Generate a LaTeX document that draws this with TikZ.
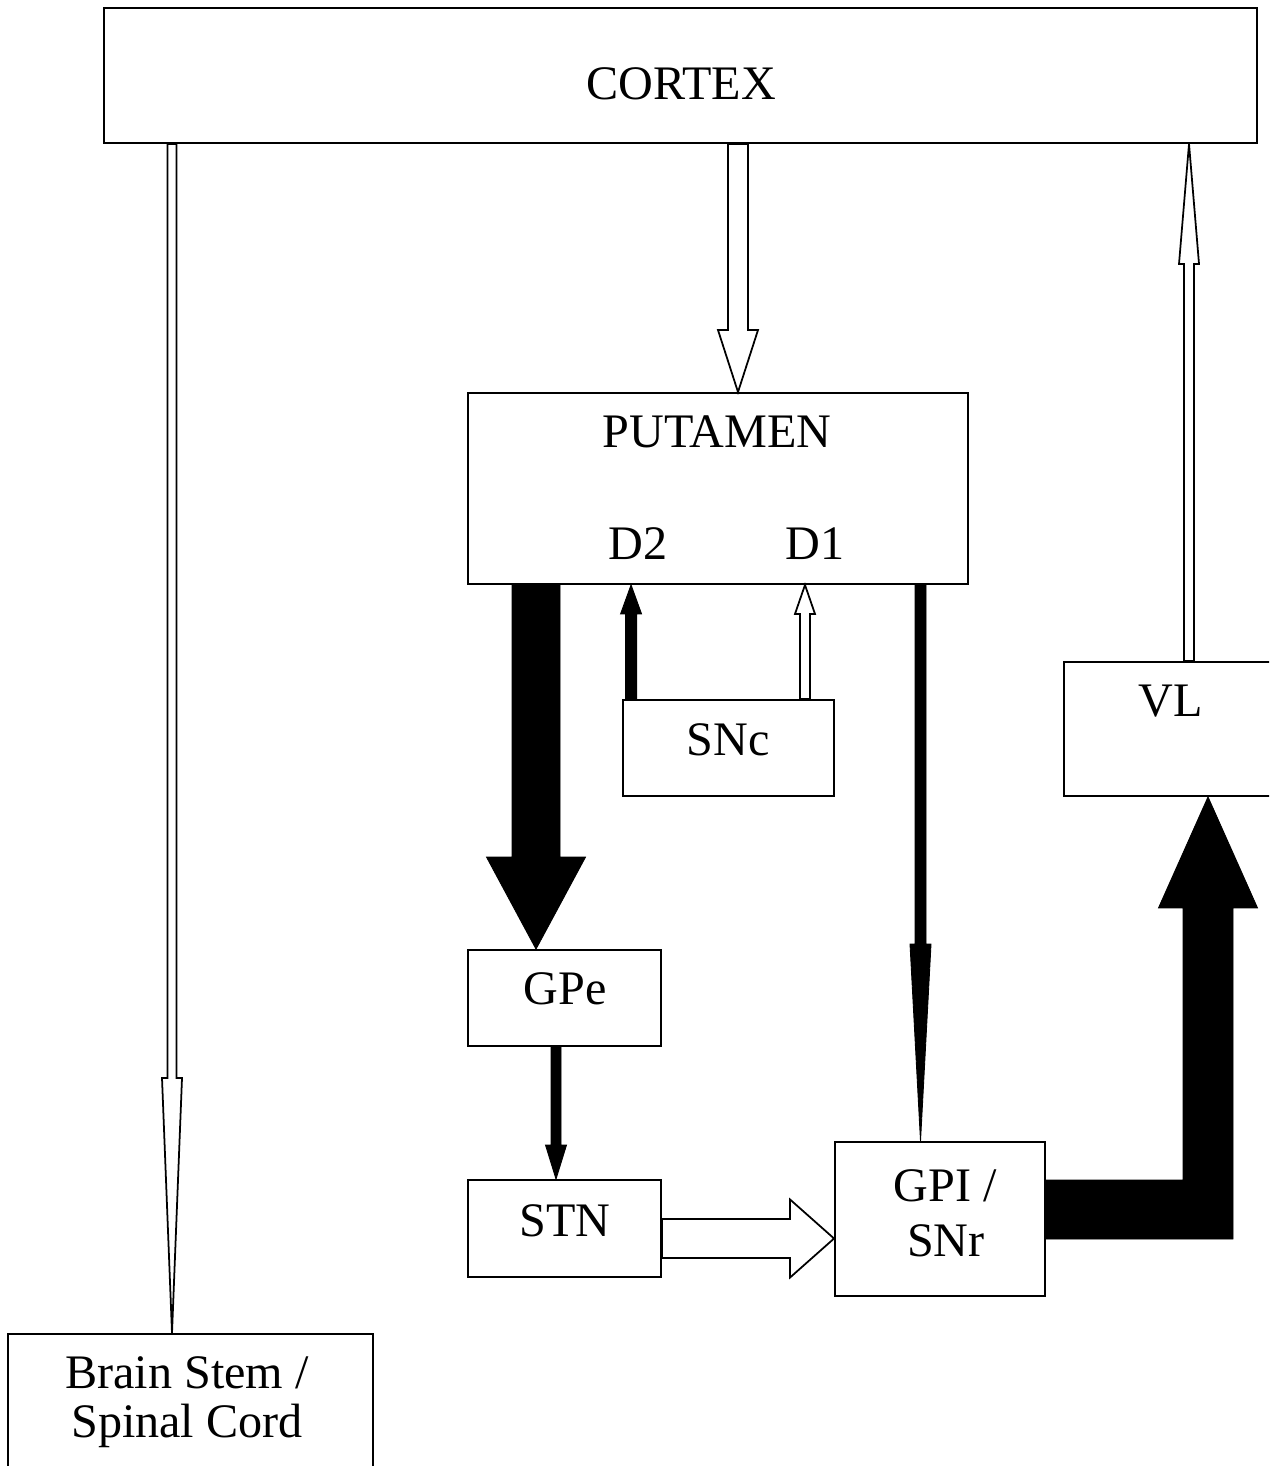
\documentclass[tikz,border=0pt]{standalone}
\usepackage{fontspec}
\setmainfont{Liberation Serif}
\usetikzlibrary{calc}

\newcommand{\blockarrow}[6]{%
  \path (#3) coordinate (ba-e) ($(#3)!#6!(#2)$) coordinate (ba-h);
  \draw[#1] ($(#2)!#4!90:(#3)$) -- ($(ba-h)!#4!90:(ba-e)$) -- ($(ba-h)!#5!90:(ba-e)$)
    -- (ba-e) -- ($(ba-h)!#5!-90:(ba-e)$) -- ($(ba-h)!#4!-90:(ba-e)$) -- ($(#2)!#4!-90:(#3)$) -- cycle;
}

\begin{document}
\begin{tikzpicture}[x=0.02cm, y=-0.02cm,
  every node/.style={font=\fontsize{27.4pt}{31pt}\selectfont},
  box/.style={draw, line width=1.1pt, inner sep=0pt},
  lbl/.style={inner sep=0pt, anchor=base},
  blackarrow/.style={fill=black, draw=black, line width=0.5pt},
  whitearrow/.style={draw=black, line width=1pt, line join=miter}]
 \clip (0,0) rectangle (1269,1466);

 \node[box, minimum width=23.06cm, minimum height=2.70cm] (cortex) at (680.5,75.5) {};
 \node[box, minimum width=10.00cm, minimum height=3.82cm] (putamen) at (718,488.5) {};
 \node[box, minimum width=4.22cm, minimum height=1.92cm] (snc) at (728.5,748) {};
 \node[box, minimum width=4.32cm, minimum height=2.68cm] (vl) at (1172,729) {};
 \node[box, minimum width=3.86cm, minimum height=1.92cm] (gpe) at (564.5,998) {};
 \node[box, minimum width=3.86cm, minimum height=1.94cm] (stn) at (564.5,1228.5) {};
 \node[box, minimum width=4.20cm, minimum height=3.08cm] (gpi) at (940,1219) {};
 \node[box, minimum width=7.30cm, minimum height=2.92cm] (brain) at (190.5,1407) {};

 \node[lbl] (cortexT) at (681,100) {CORTEX};
 \node[lbl] (putamenT) at (717,447) {PUTAMEN};
 \node[lbl] (dtwoT) at (638,559) {D2};
 \node[lbl] (doneT) at (815,559) {D1};
 \node[lbl] (sncT) at (728,755) {SNc};
 \node[lbl] (vlT) at (1171,716) {VL};
 \node[lbl] (gpeT) at (565,1004) {GPe};
 \node[lbl] (stnT) at (565,1236) {STN};
 \node[lbl] (gpiT) at (945,1201) {GPI /};
 \node[lbl] (snrT) at (946,1256) {SNr};
 \node[lbl] (brainT) at (187,1388) {Brain Stem /};
 \node[lbl] (spinalT) at (187,1437) {Spinal Cord};

 \coordinate (bs-in) at ([xshift=-0.37cm]brain.north);
 \coordinate (bs-out) at (cortex.south -| bs-in);
 \coordinate (pu-in) at ([xshift=0.4cm]putamen.north);
 \coordinate (pu-out) at (cortex.south -| pu-in);
 \coordinate (vl-out) at ([xshift=0.34cm]vl.north);
 \coordinate (vl-in) at (cortex.south -| vl-out);
 \coordinate (gpe-in) at ([xshift=-0.57cm]gpe.north);
 \coordinate (gpe-out) at (putamen.south -| gpe-in);
 \coordinate (d2-out) at ([xshift=0.18cm]snc.north west);
 \coordinate (d2-in) at (putamen.south -| d2-out);
 \coordinate (d1-out) at ([xshift=1.53cm]snc.north);
 \coordinate (d1-in) at (putamen.south -| d1-out);
 \coordinate (gpi-in) at ([xshift=-0.39cm]gpi.north);
 \coordinate (gpi-out) at (putamen.south -| gpi-in);
 \coordinate (stn-in) at ([xshift=-0.17cm]stn.north);
 \coordinate (stn-out) at (gpe.south -| stn-in);
 \coordinate (sg-out) at ([yshift=-0.2cm]stn.east);
 \coordinate (sg-in) at (gpi.west |- sg-out);
 \coordinate (gv-out) at ([yshift=0.19cm]gpi.east);
 \coordinate (gv-in) at ([xshift=0.72cm]vl.south);
 \coordinate (gv-c) at (gv-in |- gv-out);

 \blockarrow{whitearrow}{bs-out}{bs-in}{0.09cm}{0.2cm}{5.1cm}
 \blockarrow{whitearrow}{pu-out}{pu-in}{0.2cm}{0.4cm}{1.24cm}
 \blockarrow{whitearrow}{vl-out}{vl-in}{0.1cm}{0.2cm}{2.4cm}
 \blockarrow{blackarrow}{gpe-out}{gpe-in}{0.48cm}{0.99cm}{1.84cm}
 \blockarrow{blackarrow}{d2-out}{d2-in}{0.11cm}{0.21cm}{0.58cm}
 \blockarrow{whitearrow}{d1-out}{d1-in}{0.1cm}{0.2cm}{0.58cm}
 \blockarrow{blackarrow}{gpi-out}{gpi-in}{0.11cm}{0.21cm}{3.94cm}
 \blockarrow{blackarrow}{stn-out}{stn-in}{0.1cm}{0.21cm}{0.68cm}
 \blockarrow{whitearrow}{sg-out}{sg-in}{0.39cm}{0.78cm}{0.88cm}
 \draw[blackarrow] ($(gv-out)+(0,-29.5)$) -- ($(gv-c)+(-25,-29.5)$) -- ($(gv-in)+(-25,111)$)
   -- ($(gv-in)+(-49.5,111)$) -- (gv-in) -- ($(gv-in)+(49.5,111)$) -- ($(gv-in)+(25,111)$)
   -- ($(gv-c)+(25,29.5)$) -- ($(gv-out)+(0,29.5)$) -- cycle;
\end{tikzpicture}
\end{document}
